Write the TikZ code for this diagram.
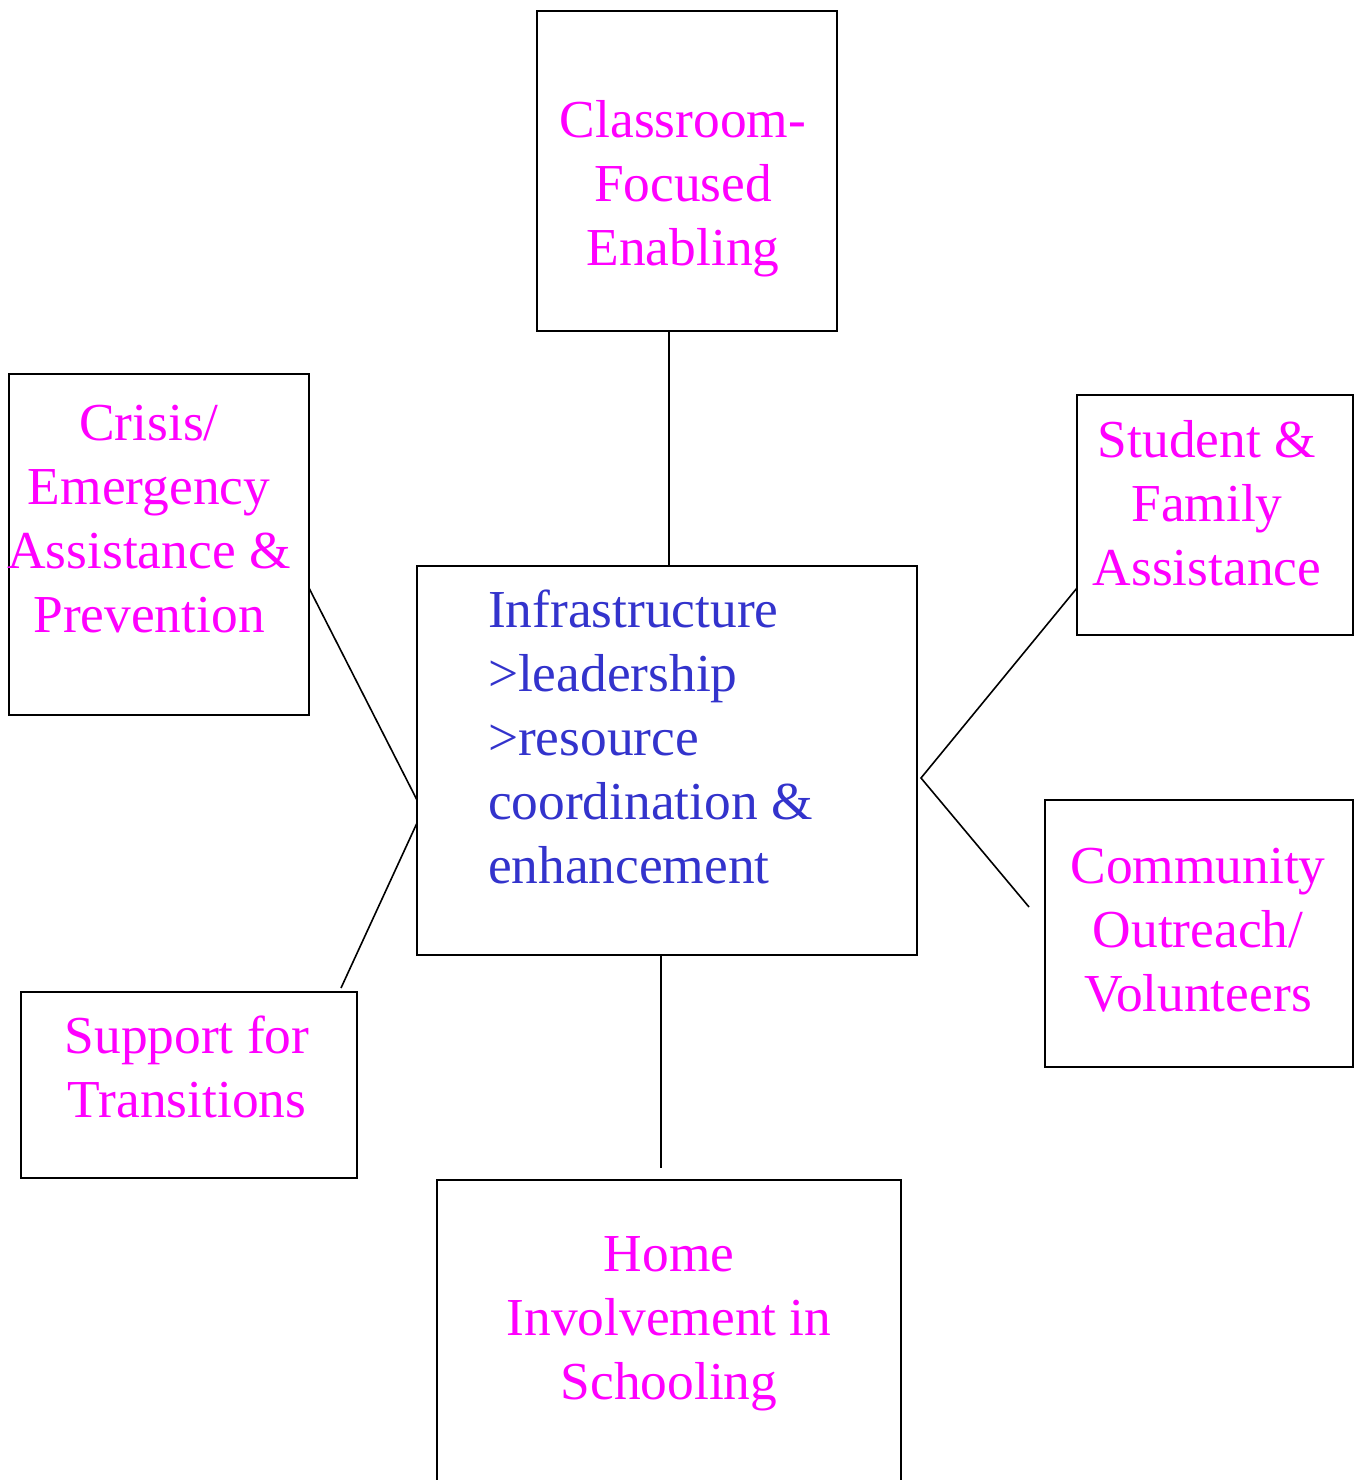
\documentclass[tikz,border=0pt]{standalone}
\usepackage{fontspec}
\setmainfont{Liberation Serif}
\usetikzlibrary{calc}
\definecolor{mag}{HTML}{FF00FF}
\definecolor{infrablue}{HTML}{3333CC}
\newcommand\ctext[1]{\parbox[t]{460pt}{\centering #1}}
\newcommand\ltext[1]{\parbox[t]{460pt}{\raggedright #1}}
\begin{document}
\begin{tikzpicture}[x=1pt,y=-1pt,
  boxnode/.style={draw=black,line width=2.4pt,rectangle,inner sep=0pt,outer sep=0pt},
  lbl/.style={inner sep=0pt,outer sep=0pt,anchor=base,text=mag,font=\fontsize{53.4}{64}\selectfont},
  conn/.style={line width=1.6pt,draw=black}]
\useasboundingbox (0,0) rectangle (1354,1480);
% boxes
\node[boxnode,minimum width=300pt,minimum height=320pt] (classroom) at (687,171) {};
\node[boxnode,minimum width=300pt,minimum height=341pt] (crisis) at (159,544.5) {};
\node[boxnode,minimum width=276pt,minimum height=240pt] (student) at (1215,515) {};
\node[boxnode,minimum width=308pt,minimum height=267pt] (community) at (1199,933.5) {};
\node[boxnode,minimum width=336pt,minimum height=186pt] (support) at (189,1085) {};
\node[boxnode,minimum width=500pt,minimum height=389pt] (infra) at (667,760.5) {};
\node[boxnode,minimum width=464pt,minimum height=320pt] (home) at (669,1340) {};
% texts
\node[lbl] (tclass) at (683,137) {\ctext{Classroom-\\Focused\\Enabling}};
\node[lbl] (tcrisis) at (149,440) {\ctext{Crisis/\\Emergency\\Assistance \&\\Prevention}};
\node[lbl] (tstudent) at (1207,457) {\ctext{Student \&\\Family\\Assistance}};
\node[lbl] (tcomm) at (1198,883) {\ctext{Community\\Outreach/\\Volunteers}};
\node[lbl] (tsupport) at (187,1053) {\ctext{Support for\\Transitions}};
\node[lbl] (thome) at (669,1271) {\ctext{Home\\Involvement in\\Schooling}};
\node[lbl,anchor=base west,text=infrablue] (tinfra) at (488,627) {\ltext{Infrastructure\\>leadership\\>resource\\coordination \&\\enhancement}};
% connectors
\draw[conn] ($(classroom.south west)+(132,0)$) -- ($(infra.north west)+(252,0)$);
\draw[conn] ($(crisis.north east)+(0,214)$) -- ($(infra.north west)+(0,234)$);
\draw[conn] ($(support.north west)+(320,-4)$) -- ($(infra.north west)+(0,257)$);
\draw[conn] ($(infra.south west)+(244,0)$) -- ($(home.north west)+(224,-12)$);
\draw[conn] ($(student.north west)+(0,193)$) -- ($(infra.north east)+(4,212)$) -- ($(community.north west)+(-16,107)$);
\end{tikzpicture}
\end{document}
